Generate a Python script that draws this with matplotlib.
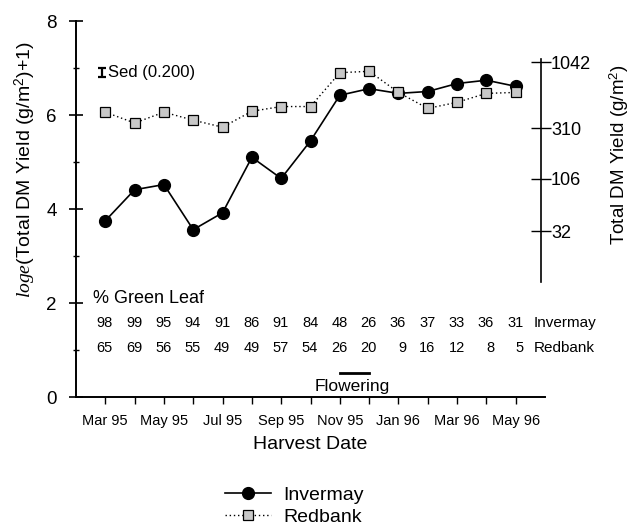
import numpy as np
import matplotlib.pyplot as plt

plt.rcParams['font.family'] = ['Liberation Sans', 'DejaVu Sans']
plt.rcParams['mathtext.fontset'] = 'custom'
plt.rcParams['mathtext.rm'] = 'Liberation Sans'
plt.rcParams['mathtext.it'] = 'Liberation Serif:italic'

# harvest dates (monthly, Mar 95 - May 96)
months = ['Mar 95', 'Apr 95', 'May 95', 'Jun 95', 'Jul 95', 'Aug 95', 'Sep 95',
          'Oct 95', 'Nov 95', 'Dec 95', 'Jan 96', 'Feb 96', 'Mar 96', 'Apr 96', 'May 96']
# loge(total DM yield + 1)
invermay = [3.75, 4.41, 4.52, 3.56, 3.92, 5.10, 4.65, 5.45, 6.42, 6.56, 6.46, 6.50, 6.67, 6.74, 6.61]
redbank = [6.06, 5.83, 6.06, 5.89, 5.74, 6.08, 6.18, 6.18, 6.90, 6.93, 6.48, 6.14, 6.27, 6.46, 6.48]
# % green leaf
green_inv = [98, 99, 95, 94, 91, 86, 91, 84, 48, 26, 36, 37, 33, 36, 31]
green_red = [65, 69, 56, 55, 49, 49, 57, 54, 26, 20, 9, 16, 12, 8, 5]
# right axis (g/m2)
right_ticks = [1042, 310, 106, 32]
right_tick_pos = [7.12, 5.72, 4.64, 3.53]
sed = 0.200
flowering = ['Nov 95', 'Dec 95']

x = np.arange(1, len(months) + 1)

fig = plt.figure(figsize=(6.33, 5.27), dpi=100)
ax = fig.add_axes([76 / 633, 1 - 397 / 527, (545 - 76) / 633, (397 - 21) / 527])
ax.set_xlim(0, 16)
ax.set_ylim(0, 8)
ax.spines['top'].set_visible(False)
ax.spines['right'].set_visible(False)
ax.spines['left'].set_linewidth(1.4)
ax.spines['bottom'].set_linewidth(1.4)

ax.plot(x, invermay, color='black', lw=1.2, marker='o', ms=8.5, label='Invermay', zorder=3)
ax.plot(x, redbank, color='black', lw=1.0, ls=(0, (1, 2)), marker='s', ms=7,
        mfc='#c8c8c8', mec='black', mew=0.9, label='Redbank', zorder=4)

# x axis
ax.set_xticks(x)
ax.set_xticklabels([m if i % 2 == 0 else '' for i, m in enumerate(months)])
ax.tick_params(axis='x', direction='out', length=5, width=1, labelsize=10.5, pad=7)

# left y axis
ax.set_yticks([0, 2, 4, 6, 8])
ax.set_yticks([1, 3, 5, 7], minor=True)
ax.tick_params(axis='y', which='major', direction='inout', length=10, width=1.2, labelsize=13.5, pad=9)
ax.tick_params(axis='y', which='minor', direction='inout', length=5, width=1)

fig.text(25 / 633, 1 - 170 / 527, r'$\mathit{loge}$(Total DM Yield (g/m$^2$)+1)',
         rotation=90, ha='center', va='center', fontsize=14)

# right y axis
ax2 = ax.twinx()
ax2.set_ylim(0, 8)
for s in ['top', 'left', 'bottom']:
    ax2.spines[s].set_visible(False)
ax2.spines['right'].set_position(('data', 15.87))
ax2.spines['right'].set_bounds(2.45, 7.19)
ax2.spines['right'].set_linewidth(1.2)
ax2.set_yticks(right_tick_pos)
ax2.set_yticklabels([str(v) for v in right_ticks])
ax2.tick_params(axis='y', direction='inout', length=14, width=1, labelsize=13, pad=0)
fig.text(619 / 633, 1 - 155 / 527, 'Total DM Yield (g/m$^2$)',
         rotation=90, ha='center', va='center', fontsize=13.5)

# Sed bar
ax.errorbar(0.9, 6.91, yerr=sed / 2, color='black', capsize=3, capthick=1.6, elinewidth=1.6)
ax.annotate(f'Sed ({sed:.3f})', (0.9, 6.91), xytext=(4, 0), textcoords='offset points',
            va='center', fontsize=12)

# % green leaf table
ax.text(0.58, 2.1, '% Green Leaf', fontsize=13, va='center')
for xi, a, b in zip(x, green_inv, green_red):
    ax.annotate(str(a), (xi, 1.57), xytext=(5.5, 0), textcoords='offset points',
                ha='right', va='center', fontsize=10.5)
    ax.annotate(str(b), (xi, 1.04), xytext=(5.5, 0), textcoords='offset points',
                ha='right', va='center', fontsize=10.5)
ax.text(15.6, 1.57, 'Invermay', fontsize=11, va='center')
ax.text(15.6, 1.04, 'Redbank', fontsize=11, va='center')

# flowering period
f0, f1 = x[months.index(flowering[0])], x[months.index(flowering[1])]
ax.plot([f0, f1], [0.51, 0.51], color='black', lw=2)
ax.text(9.42, 0.23, 'Flowering', ha='center', va='center', fontsize=12.5)

ax.set_xlabel('Harvest Date', fontsize=14, labelpad=6)

fig.legend(loc='center', bbox_to_anchor=(294 / 633, 1 - 506 / 527), frameon=False,
           fontsize=14, handlelength=2.4, handletextpad=0.6, labelspacing=0.2)

fig.savefig('out.png', dpi=100)
